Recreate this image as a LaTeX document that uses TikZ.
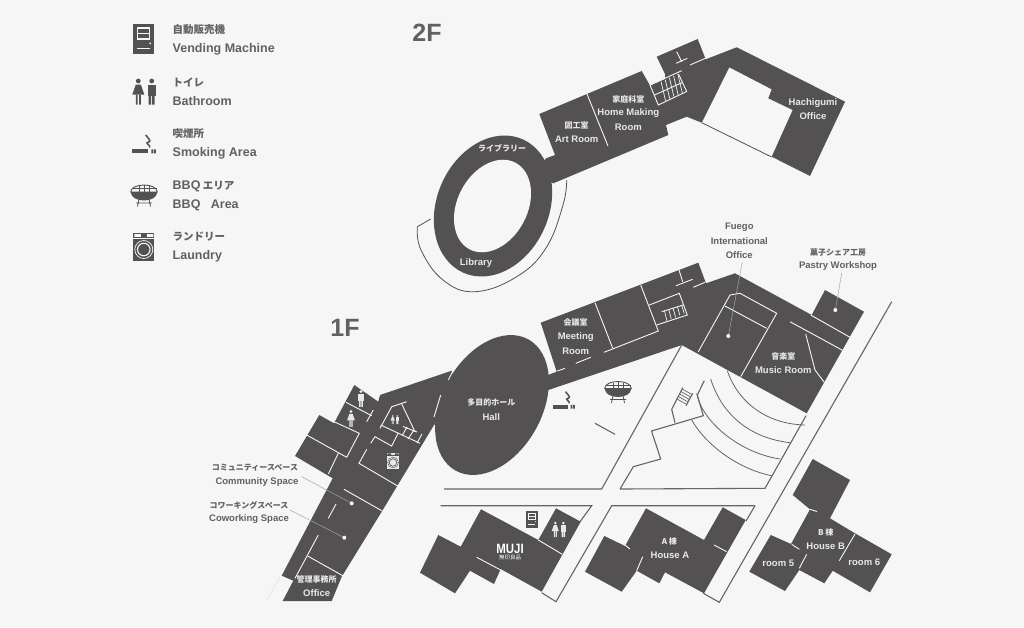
\documentclass[tikz,border=0pt]{standalone}
\usepackage{fontspec}
\setmainfont{Liberation Sans}
\newfontfamily\jpfont{Noto Sans CJK JP}
\definecolor{paper}{HTML}{F6F6F6}
\definecolor{block}{HTML}{545152}
\definecolor{inktext}{HTML}{626061}
\definecolor{roadline}{HTML}{666465}
\definecolor{lighttext}{HTML}{E8E8E8}

\tikzset{
  wall/.style={draw=paper, line width=0.9pt},
  stepline/.style={draw=paper, line width=0.7pt},
  road/.style={draw=roadline, line width=1.1pt, line join=miter},
  leader/.style={draw=black!35, line width=0.5pt},
  spot/.style={circle, fill=paper, inner sep=0pt, minimum width=4pt},
  jplight/.style={text=lighttext, inner sep=0pt, font=\jpfont\fontsize{8}{9}\selectfont\bfseries},
  enlight/.style={text=lighttext, inner sep=0pt, font=\fontsize{9.5}{11}\selectfont\bfseries},
  jpdark/.style={text=inktext, inner sep=0pt, font=\jpfont\fontsize{8}{9}\selectfont\bfseries},
  endark/.style={text=inktext, inner sep=0pt, font=\fontsize{9.5}{11}\selectfont\bfseries},
  jpkey/.style={text=inktext, inner sep=0pt, anchor=west, font=\jpfont\fontsize{10.5}{12}\selectfont\bfseries},
  enkey/.style={text=inktext, inner sep=0pt, anchor=west, font=\fontsize{12.5}{15}\selectfont\bfseries},
  floorname/.style={text=inktext, inner sep=0pt, font=\fontsize{25}{28}\selectfont\bfseries},
}

% x, y, scale, body colour, line colour
\newcommand{\vendmark}[5]{
  \begin{scope}[shift={(#1,#2)}, scale=#3]
    \fill[#4] (-10.5,-15) rectangle (10.5,15);
    \draw[#5, line width=#3*1.1pt] (-6.5,-11) rectangle (6,0) (-6.5,-5.5) -- (6,-5.5);
    \fill[#5] (6.4,4.3) circle (1);
    \draw[#5, line width=#3*1.4pt] (-6.5,9.5) -- (6,9.5);
  \end{scope}
}
\newcommand{\womanmark}[4]{
  \begin{scope}[shift={(#1,#2)}, scale=#3]
    \fill[#4] (0,-11.5) circle (2.4);
    \fill[#4] (-2.5,-8) -- (2.5,-8) -- (6,2) -- (-6,2) -- cycle;
    \fill[#4] (-2.5,2) rectangle (-0.7,12) (0.7,2) rectangle (2.5,12);
  \end{scope}
}
\newcommand{\manmark}[4]{
  \begin{scope}[shift={(#1,#2)}, scale=#3]
    \fill[#4] (0,-11.5) circle (2.4);
    \fill[#4] (-4,-8) rectangle (4,3);
    \fill[#4] (-3,3) rectangle (-0.5,12) (0.5,3) rectangle (3,12);
  \end{scope}
}
\newcommand{\smokemark}[3]{
  \begin{scope}[shift={(#1,#2)}, scale=#3]
    \fill[block] (-12,5.3) rectangle (4.5,9.3);
    \fill[block] (7.5,5.3) rectangle (9.4,9.3) (10.1,5.3) rectangle (12,9.3);
    \draw[block, line width=1.5pt] (2,-9) .. controls (4,-6) and (8,-3) .. (5,-2) .. controls (0,-1) and (7,1) .. (6,3.5);
  \end{scope}
}
\newcommand{\grillmark}[3]{
  \begin{scope}[shift={(#1,#2)}, scale=#3]
    \fill[block] (-13.3,-4) .. controls (-13,7.3) and (13,7.3) .. (13.3,-4) -- cycle;
    \draw[block, line width=0.9pt] (-13.3,-4) .. controls (-13,-13.3) and (13,-13.3) .. (13.3,-4) -- cycle;
    \draw[block, line width=0.7pt] (-5,-10) -- (-5,-4) (0,-11) -- (0,-4) (5,-10) -- (5,-4) (-12.5,-7.3) -- (12.5,-7.3);
    \draw[block, line width=0.8pt] (-5,3) -- (-6.5,10.5) (5,3) -- (6.5,10.5) (-8,7) -- (8,7);
  \end{scope}
}
\newcommand{\washmark}[5]{
  \begin{scope}[shift={(#1,#2)}, scale=#3]
    \fill[#4] (-10.5,-13.7) rectangle (10.5,13.7);
    \draw[#5, line width=#3*0.8pt] (-10.5,-9) -- (10.5,-9);
    \fill[#5] (-9.5,-12.8) rectangle (-3,-10.2) (3,-12.8) rectangle (9.5,-10.2);
    \draw[#5, line width=#3*0.7pt] (0,2.5) circle (9);
    \draw[#5, line width=#3*1.1pt] (0,2.5) circle (6.3);
  \end{scope}
}

\begin{document}
\begin{tikzpicture}[x=1pt, y=-1pt]

\useasboundingbox (0,0) rectangle (1024,627);
\fill[paper] (0,0) rectangle (1024,627);

% 2F
\fill[block] (539.3,114) -- (641.7,71) -- (650,85.5) -- (665,79) -- (665,74) -- (656.7,56.7) -- (697.7,39)
  -- (705.7,59.3) -- (736.7,47.3) -- (845,101.7) -- (810,176) -- (771.7,156.7) -- (792.7,110) -- (768.3,98.3)
  -- (771.7,89.3) -- (729.3,67.3) -- (701.7,122.7) -- (686.7,116.7) -- (666,125) -- (668.3,135)
  -- (553.3,183.3) -- (535,175) -- (546,158.3) -- (555,155) -- cycle;
\fill[block] (493,206) ellipse [x radius=56, y radius=73, rotate=-24];
\fill[paper] (492.5,206) ellipse [x radius=35, y radius=49, rotate=-28];

\draw[wall] (587,94) -- (608,146);
\draw[wall] (650,85) -- (681.7,70.7);
\draw[wall] (690,65) -- (706,58);
\draw[wall] (676.7,51.7) -- (681.7,61.7) (676,63.3) -- (687.3,58.3);
\draw[wall] (650,85) -- (658.3,105) -- (686.7,91.5) -- (678.5,74);
\draw[wall] (654.5,95) -- (682.5,82.5);
\foreach \s in {0,1,2,3,4} {
  \draw[stepline] (661+4.2*\s,81.5-1.9*\s) -- (665.5+4.2*\s,100.5-1.9*\s);
}
\draw[draw=block, line width=0.8pt] (701.7,122.7) -- (771.7,157);
\draw[draw=block, line width=0.8pt] plot[smooth, tension=0.7] coordinates {(566.7,180) (563,205) (546,248) (516.7,276.7) (475,291.7) (443,280) (421,250) (417.3,226.7)} -- (430.7,219);

% 1F
\fill[block] (540.7,322.7) -- (698.3,262.7) -- (706,283.3) -- (735,273.3) -- (811.7,315) -- (825,290)
  -- (864,311.7) -- (806.7,413.3) -- (681.7,345) -- (548.3,390) -- (530,385) -- (548,375) -- (556.7,371.7) -- cycle;
\fill[block] (354.3,385) -- (378.3,401.7) -- (380,395) -- (451.7,370.7) -- (460,400) -- (434,425)
  -- (381.7,511.7) -- (341.7,576.7) -- (331.7,601) -- (282.7,601) -- (293.3,580.7) -- (281.7,575.7)
  -- (332.7,478.3) -- (295,456) -- (319.3,415) -- (334,423.3) -- cycle;
\fill[block] (492,405) ellipse [x radius=50, y radius=75, rotate=-29];

\draw[wall] (595,302.7) -- (612.7,348.3);
\draw[wall] (604,352.3) -- (658.3,331) -- (640.7,285);
\draw[wall] (649.3,305) -- (679.3,293.3) -- (687.3,315) -- (656.7,325);
\draw[wall] (661.7,311.7) -- (683.3,305);
\foreach \s in {0,1,2,3,4} {
  \draw[stepline] (664.5+4.3*\s,311-1.45*\s) -- (667+4.3*\s,321-1.85*\s);
}
\draw[wall] (679,270) -- (682.7,281.7) (676,285.7) -- (692.7,279.3);
\draw[wall] (693.3,287.3) -- (705,282.3);
\draw[wall] (575.7,363.3) -- (590.7,357.3);
\draw[wall] (557.3,371) -- (565,368.3);
\draw[wall] (698.3,351.7) -- (730,295) -- (740,293.3) -- (776.7,313.3) -- (740.7,376.7);
\draw[wall] (725,306) -- (766.7,328.3);
\draw[wall] (790,321.7) -- (843.3,350.7);
\draw[wall] (810.7,315) -- (850,337.3);
\draw[wall] (805.7,334) -- (815,370) -- (824.3,382.3);

\draw[wall] (453.3,370) -- (448.3,380);
\draw[wall] (440.7,395) -- (434,417);
\draw[wall] (346,402.3) -- (371.7,415.7);
\draw[wall] (373.3,410) -- (366.7,421.7);
\draw[wall] (306.7,435) -- (346.7,457.3) -- (359.3,433.3) -- (334,421.7);
\draw[wall] (338.3,453.3) -- (328.3,474);
\draw[wall] (380,428.3) -- (391.7,406.7) -- (406.7,401.7);
\draw[wall] (401.7,404) -- (415,431.7);
\draw[wall] (380.7,425) -- (420,443.3);
\draw[wall] (403,426.5) -- (417,432) (407,427) -- (402.5,435) (414,430) -- (408,439) (422,434) -- (417,443);
\draw[wall] (370.7,443.3) -- (375,436.7) -- (391.7,446) -- (398.3,432.7);
\draw[wall] (366.7,449.3) -- (359,463.3) -- (397.7,486);
\draw[wall] (344,489.3) -- (381.7,510.7);
\draw[wall] (336,504) -- (328.3,518.3);
\draw[wall] (318.3,535) -- (295,578.3);
\draw[wall] (307.7,556) -- (343.3,576);

% Roads and courtyard
\draw[road] (444,489) -- (601.7,489) -- (681.7,345);
\draw[road] (620,489) -- (765,488.3) -- (806,415.7);
\draw[road] (620,489) -- (633.3,466.7) -- (660.7,459) -- (651.5,431) -- (703.3,415.7) -- (697.3,395) -- (704.3,380.7);
\draw[road] (675,422.7) -- (671.7,409.3) -- (682.7,387.7);
\draw[road] (692.7,393.3) -- (686,405.7);
\foreach \t in {0.1,0.3,0.5,0.7,0.9} {
  \draw[road, line width=0.7pt] (682.7-6.7*\t,387.7+12.3*\t) -- (692.7-6.7*\t,393.3+12.3*\t);
}
\draw[road] (595,423.3) -- (615,434.3);
\draw[road] (891.7,301.7) -- (719.3,602.3) -- (703.3,593.3);
\draw[road] (440.7,505.7) -- (591.7,505.7) -- (580,521.7);
\draw[road] (755,505.7) -- (611.7,505.7) -- (556,601.7) -- (541.7,592.7);
\draw[road] (755,505.7) -- (746,521);
\draw[road, line width=0.8pt] (727.3,370.7) .. controls (738,402) and (766,424) .. (805,425);
\draw[road, line width=0.8pt] (710.7,379) .. controls (722,415) and (750,438) .. (790,442.7);
\draw[road, line width=0.8pt] (696.7,393.3) .. controls (702,422) and (740,453) .. (780,459);
\draw[road, line width=0.8pt] (691.7,420) .. controls (706,445) and (738,469) .. (771.7,475.7);

% Houses
\fill[block] (420,572.7) -- (438.3,535) -- (460.7,546.7) -- (481,509.3) -- (538.3,540) -- (556,508.3)
  -- (580.7,521.7) -- (541.7,591.7) -- (500.7,569) -- (494,584) -- (470,570.7) -- (455,593.3) -- cycle;
\draw[wall] (476.7,557.3) -- (500.7,570);
\draw[wall] (538.3,540) -- (562.3,554.3);
\fill[block] (585,571.7) -- (604.3,536) -- (625,546) -- (646,508.3) -- (704,540) -- (722.7,507.3)
  -- (745.7,520) -- (704,593.3) -- (665,572.3) -- (659.3,583.3) -- (636.7,570.7) -- (621.7,591.7) -- cycle;
\draw[wall] (625,545) -- (630,549);
\draw[wall] (636.7,570.7) -- (642.7,556.7);
\draw[wall] (714,545) -- (726.7,551.7);
\fill[block] (812.7,459) -- (850,480) -- (830,518.3) -- (855,533.3) -- (891.7,554.3) -- (870,592.3) -- (832.7,570.7)
  -- (824.3,583.3) -- (799.3,570) -- (785,591) -- (749.3,571.7) -- (770.7,535) -- (791,544) -- (810,509.3)
  -- (792.7,495) -- cycle;
\draw[wall] (855,534) -- (839.3,560.7);
\draw[wall] (791.7,544.3) -- (799.3,549.3);
\draw[wall] (806.7,554.3) -- (799.3,568.3);
\draw[wall] (810,509.3) -- (817,511.5);

% Icons on the plan
\manmark{361}{399}{0.65}{lighttext}
\womanmark{351}{419}{0.65}{lighttext}
\womanmark{392.7}{420}{0.35}{lighttext}
\manmark{397.3}{420}{0.35}{lighttext}
\washmark{393}{461}{0.6}{lighttext}{block}
\smokemark{563.7}{400}{0.93}
\grillmark{618}{392.5}{1}
\vendmark{531.7}{519.3}{0.57}{block}{paper}
\womanmark{555.3}{530}{0.6}{lighttext}
\manmark{563.3}{530}{0.6}{lighttext}

% Legend
\vendmark{143.8}{39}{1}{block}{paper}
\womanmark{138.3}{92.5}{1}{block}
\manmark{151.7}{92.5}{1}{block}
\smokemark{143.8}{144}{1}
\grillmark{144}{196}{1}
\washmark{143.8}{247}{1}{block}{paper}

\node (vendjp)[jpkey] at (172.5,30) {自動販売機};
\node (venden)[enkey] at (172.5,49) {Vending Machine};
\node (bathjp)[jpkey] at (172.5,82) {トイレ};
\node (bathen)[enkey] at (172.5,101) {Bathroom};
\node (smokejp)[jpkey] at (172.5,134) {喫煙所};
\node (smokeen)[enkey] at (172.5,153) {Smoking Area};
\node (bbqjp)[jpkey] at (172.5,186) {{\normalfont\fontsize{12.5}{15}\selectfont\bfseries BBQ} エリア};
\node (bbqen)[enkey] at (172.5,205) {BBQ\ \ \ Area};
\node (laundjp)[jpkey] at (172.5,237) {ランドリー};
\node (laundryen)[enkey] at (172.5,256) {Laundry};

\node (second)[floorname] at (427,33) {2F};
\node (first)[floorname] at (345,328) {1F};

% Labels 2F
\node (libjp)[jplight] at (502,148) {ライブラリー};
\node (liben)[enlight] at (476,263) {Library};
\node (artjp)[jplight] at (576.7,125.7) {図工室};
\node (arten)[enlight] at (576.7,139.3) {Art Room};
\node (homejp)[jplight] at (628.3,99.3) {家庭科室};
\node (homea)[enlight] at (628.3,113.3) {Home Making};
\node (homeb)[enlight] at (628.3,127.3) {Room};
\node (hachia)[enlight] at (813,103) {Hachigumi};
\node (hachib)[enlight] at (813,116.5) {Office};

% Labels 1F
\node (fuegoa)[endark] at (739.3,227.7) {Fuego};
\node (fuegob)[endark] at (739.3,241.3) {International};
\node (fuegoc)[endark] at (739.3,255) {Office};
\node (pastryjp)[jpdark] at (838,252) {菓子シェア工房};
\node (pastryen)[endark] at (838,266) {Pastry Workshop};
\node (meetjp)[jplight] at (575.7,322.7) {会議室};
\node (meeta)[enlight] at (575.7,337) {Meeting};
\node (meetb)[enlight] at (575.7,351) {Room};
\node (musicjp)[jplight] at (783.3,356) {音楽室};
\node (musicen)[enlight] at (783.3,369.7) {Music Room};
\node (halljp)[jplight] at (491.3,402.7) {多目的ホール};
\node (hallen)[enlight] at (491.3,416.7) {Hall};
\node (commjp)[jpdark] at (255,468) {コミュニティースペース};
\node (commen)[endark] at (257,482) {Community Space};
\node (workjp)[jpdark] at (249,505) {コワーキングスペース};
\node (worken)[endark] at (249,519) {Coworking Space};
\node (officejp)[jplight] at (316.7,579) {管理事務所};
\node (officeen)[enlight] at (316.7,592.7) {Office};
\node (muji)[text=white, inner sep=0pt, font=\fontsize{13.5}{14}\selectfont\bfseries, xscale=0.85] at (510,548.7) {MUJI};
\node (mujijp)[text=white, inner sep=0pt, font=\jpfont\fontsize{5.5}{6}\selectfont] at (510,557.5) {無印良品};
\node (houseajp)[jplight] at (669.3,541) {A 棟};
\node (houseaen)[enlight] at (670,555) {House A};
\node (housebjp)[jplight] at (825.7,532.7) {B 棟};
\node (housebeb)[enlight] at (825.7,546.7) {House B};
\node (roomfive)[enlight] at (778.3,563) {room 5};
\node (roomsix)[enlight] at (864.3,562.3) {room 6};

% Leaders
\node (fuegospot)[spot] at (728.3,336) {};
\node (pastryspot)[spot] at (835.3,310) {};
\node (commspot)[spot] at (351.7,503.3) {};
\node (workspot)[spot] at (344.3,537.7) {};
\coordinate (fuegofoot) at (742.3,262);
\coordinate (pastryfoot) at (841.7,273);
\coordinate (commfoot) at (301.7,476.7);
\coordinate (workfoot) at (290,510);
\coordinate (officefoot) at (280,577);
\coordinate (officeend) at (267,600);
\draw[leader] (fuegofoot) -- (fuegospot);
\draw[leader] (pastryfoot) -- (pastryspot);
\draw[leader] (commfoot) -- (commspot);
\draw[leader] (workfoot) -- (workspot);
\draw[leader, draw=black!12] (officefoot) -- (officeend);

\end{tikzpicture}
\end{document}
